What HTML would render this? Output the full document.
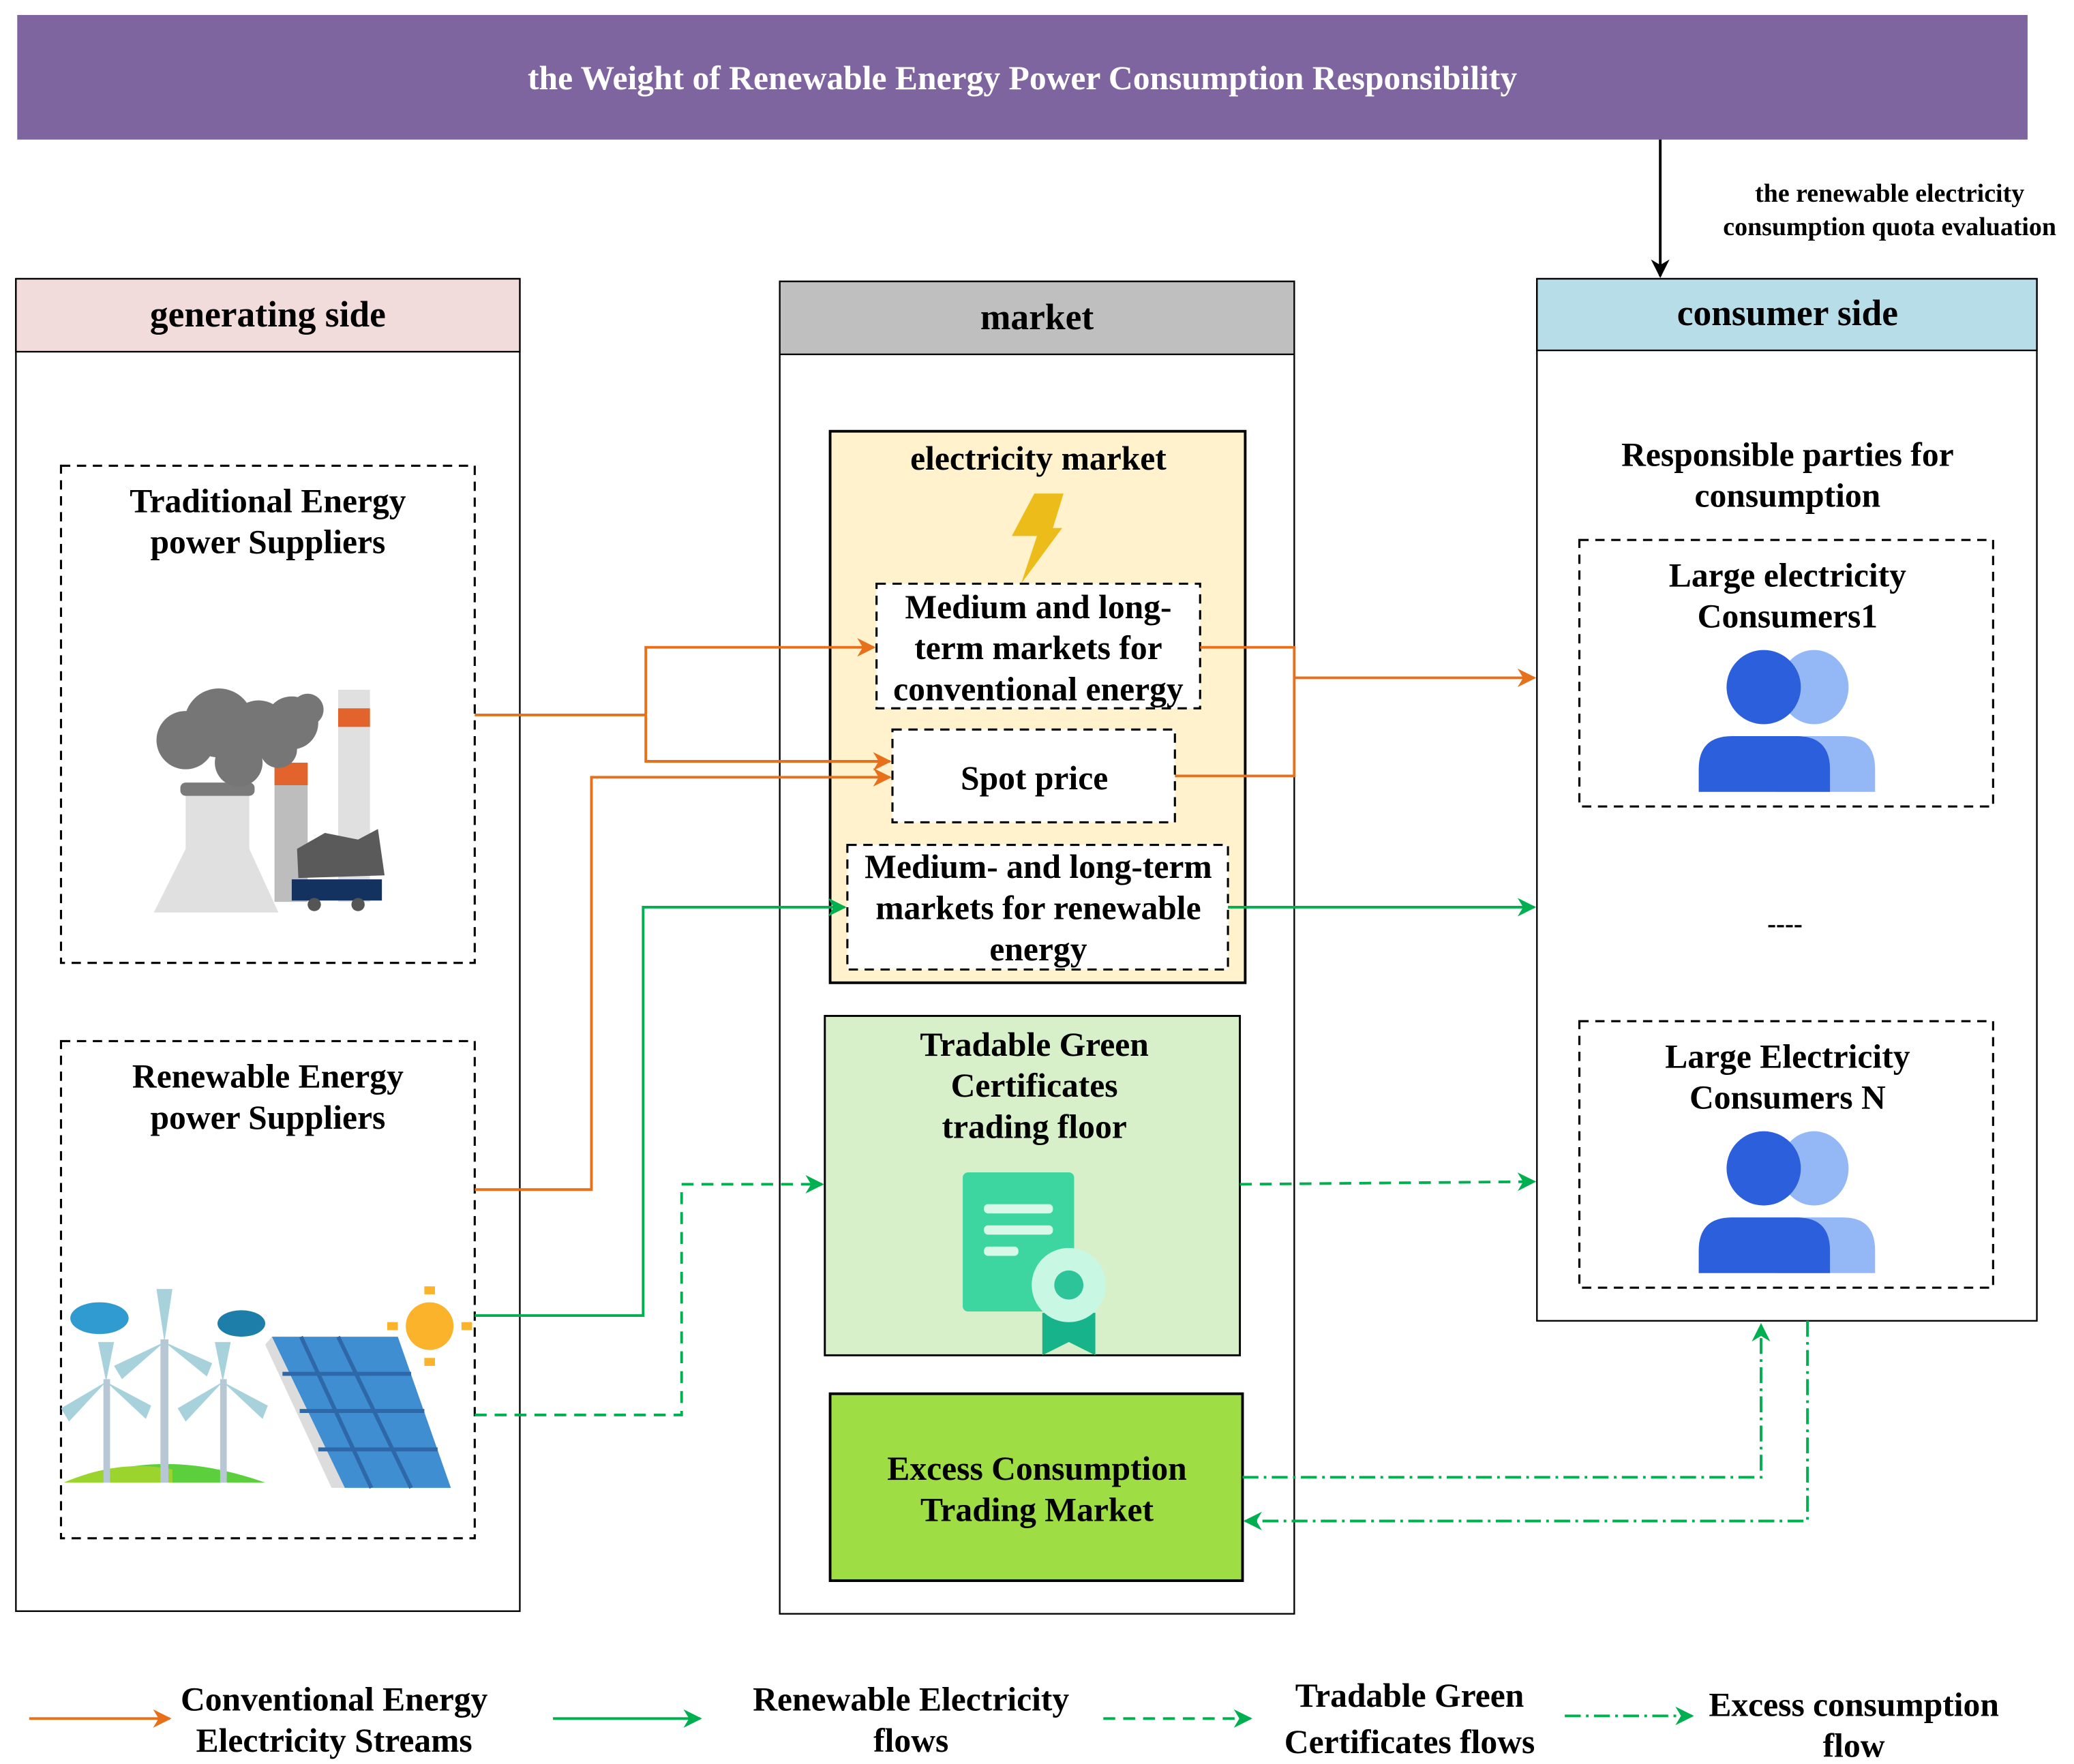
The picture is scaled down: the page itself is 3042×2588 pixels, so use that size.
<!DOCTYPE html>
<html><head><meta charset="utf-8"><style>
html,body{margin:0;padding:0;background:#fff;}
svg{display:block;}
text{font-family:"Liberation Serif",serif;font-weight:bold;}
</style></head><body>
<svg width="3042" height="2588" viewBox="0 0 1564 1330" xmlns="http://www.w3.org/2000/svg">
<defs>
<marker id="ao" viewBox="0 0 10 10" refX="9" refY="5" markerWidth="14" markerHeight="14" orient="auto" markerUnits="userSpaceOnUse"><path d="M0,0 L10,5 L0,10 L3,5 z" fill="#e8701a"/></marker>
<marker id="ag" viewBox="0 0 10 10" refX="9" refY="5" markerWidth="14" markerHeight="14" orient="auto" markerUnits="userSpaceOnUse"><path d="M0,0 L10,5 L0,10 L3,5 z" fill="#00b050"/></marker>
<marker id="ak" viewBox="0 0 10 10" refX="9" refY="5" markerWidth="14" markerHeight="14" orient="auto" markerUnits="userSpaceOnUse"><path d="M0,0 L10,5 L0,10 L3,5 z" fill="#000"/></marker>
</defs>
<style>
.ao{stroke:#e8701a;stroke-width:2;fill:none}
.ag{stroke:#00b050;stroke-width:2;fill:none}
.gd{stroke:#00b050;stroke-width:2;fill:none;stroke-dasharray:9,6}
.gdd{stroke:#00b050;stroke-width:2;fill:none;stroke-dasharray:12,4,2,4}
.db{stroke:#000;stroke-width:1.6;stroke-dasharray:7,5}
.t{font-size:25.5px}
.h{font-size:27.5px}
</style>
<!-- Title -->
<rect x="13" y="11" width="1516" height="94" fill="#7f65a0"/>
<text x="771" y="67" font-size="25.5" fill="#fff" text-anchor="middle">the Weight of Renewable Energy Power Consumption Responsibility</text>
<line x1="1252" y1="105" x2="1252" y2="208" stroke="#000" stroke-width="2" marker-end="url(#ak)"/>
<text x="1425" y="152" font-size="19.5" text-anchor="middle">the renewable electricity</text>
<text x="1425" y="177" font-size="19.5" text-anchor="middle">consumption quota evaluation</text>

<!-- Generating side -->
<rect x="12" y="210" width="380" height="1005" fill="#fff" stroke="#000" stroke-width="1.2"/>
<rect x="12" y="210" width="380" height="55" fill="#f2dcdb" stroke="#000" stroke-width="1.2"/>
<text x="202" y="246" class="h" text-anchor="middle">generating side</text>
<rect x="46" y="351" width="312" height="375" fill="#fff" class="db"/>
<text x="202" y="386" class="t" text-anchor="middle">Traditional Energy</text>
<text x="202" y="417" class="t" text-anchor="middle">power Suppliers</text>
<g>
<rect x="255" y="520" width="24" height="160" fill="#e0e0e0"/>
<rect x="255" y="534" width="24" height="14" fill="#e2642c"/>
<rect x="207" y="575" width="25" height="105" fill="#bdbdbd"/>
<rect x="207" y="575" width="25" height="17" fill="#e2642c"/>
<path d="M140,598 L188,598 L188,640 L210,688 L116,688 L140,640 z" fill="#e0e0e0"/>
<rect x="136" y="590" width="56" height="10" rx="4" fill="#7a7a7a"/>
<g fill="#767676"><circle cx="140" cy="558" r="22"/><circle cx="165" cy="545" r="26"/><circle cx="195" cy="550" r="22"/><circle cx="220" cy="545" r="20"/><circle cx="232" cy="535" r="12"/><circle cx="180" cy="575" r="18"/><circle cx="210" cy="565" r="14"/></g>
<g fill="#5a5a5a"><path d="M224,640 L245,628 L270,633 L285,625 L290,660 L225,662 z"/></g>
<rect x="220" y="663" width="68" height="16" fill="#13325f"/>
<circle cx="237" cy="682" r="5" fill="#555"/><circle cx="270" cy="682" r="5" fill="#555"/>
</g>
<rect x="46" y="785" width="312" height="375" fill="#fff" class="db"/>
<text x="202" y="820" class="t" text-anchor="middle">Renewable Energy</text>
<text x="202" y="851" class="t" text-anchor="middle">power Suppliers</text>
<g>
<path d="M58,1118 Q120,1090 200,1118 z" fill="#5ccf3c"/>
<path d="M48,1118 Q90,1100 130,1108 L130,1118z" fill="#9bd42c"/>
<rect x="121" y="1010" width="6" height="108" fill="#b7c7d4"/>
<rect x="78" y="1040" width="5" height="78" fill="#b7c7d4"/>
<rect x="166" y="1040" width="5" height="78" fill="#b7c7d4"/>
<g fill="#a7d2dc">
<path d="M124,1012 L118,972 L130,972 z"/><path d="M124,1012 L86,1030 L92,1040 z"/><path d="M124,1012 L160,1028 L156,1038 z"/>
<path d="M80,1042 L74,1012 L86,1012 z"/><path d="M80,1042 L46,1062 L52,1072 z"/><path d="M80,1042 L114,1060 L110,1070 z"/>
<path d="M168,1042 L162,1012 L174,1012 z"/><path d="M168,1042 L134,1062 L140,1072 z"/><path d="M168,1042 L202,1060 L198,1070 z"/>
</g>
<ellipse cx="75" cy="994" rx="22" ry="12" fill="#2f9bd0"/>
<ellipse cx="182" cy="998" rx="18" ry="10" fill="#1c7ea9"/>
<path d="M205,1008 L300,1008 L340,1122 L260,1122 z" fill="#3f8ed2"/>
<path d="M205,1008 L260,1122 L250,1122 L200,1014 z" fill="#dcdcdc"/>
<g stroke="#2e68a9" stroke-width="3"><line x1="227" y1="1008" x2="280" y2="1122"/><line x1="255" y1="1008" x2="310" y2="1122"/><line x1="213" y1="1036" x2="310" y2="1036"/><line x1="226" y1="1064" x2="320" y2="1064"/><line x1="240" y1="1093" x2="330" y2="1093"/></g>
<circle cx="324" cy="1000" r="18" fill="#fbb32b"/>
<g fill="#fbb32b"><rect x="320" y="970" width="8" height="6"/><rect x="320" y="1024" width="8" height="6"/><rect x="292" y="997" width="8" height="6"/><rect x="348" y="997" width="8" height="6"/></g>
</g>

<!-- Market -->
<rect x="588" y="212" width="388" height="1005" fill="#fff" stroke="#000" stroke-width="1.2"/>
<rect x="588" y="212" width="388" height="55" fill="#bfbfbf" stroke="#000" stroke-width="1.2"/>
<text x="782" y="248" class="h" text-anchor="middle">market</text>
<rect x="626" y="325" width="313" height="416" fill="#fff2cc" stroke="#000" stroke-width="2"/>
<text x="783" y="354" class="t" text-anchor="middle">electricity market</text>
<path d="M780,372 L802,372 L794,398 L801,398 L770,440 L782,404 L763,404 z" fill="#ecbc1a"/>
<rect x="661" y="440" width="244" height="94" fill="#fff" class="db"/>
<text x="783" y="466" class="t" text-anchor="middle">Medium and long-</text>
<text x="783" y="497" class="t" text-anchor="middle">term markets for</text>
<text x="783" y="528" class="t" text-anchor="middle">conventional energy</text>
<rect x="673" y="550" width="213" height="70" fill="#fff" class="db"/>
<text x="780" y="595" class="t" text-anchor="middle">Spot price</text>
<rect x="639" y="637" width="287" height="94" fill="#fff" class="db"/>
<text x="783" y="662" class="t" text-anchor="middle">Medium- and long-term</text>
<text x="783" y="693" class="t" text-anchor="middle">markets for renewable</text>
<text x="783" y="724" class="t" text-anchor="middle">energy</text>
<rect x="622" y="766" width="313" height="256" fill="#d8f0c9" stroke="#000" stroke-width="1.5"/>
<text x="780" y="796" class="t" text-anchor="middle">Tradable Green</text>
<text x="780" y="827" class="t" text-anchor="middle">Certificates</text>
<text x="780" y="858" class="t" text-anchor="middle">trading floor</text>
<rect x="726" y="884" width="84" height="105" rx="4" fill="#3dd6a0"/>
<rect x="742" y="908" width="52" height="7" rx="3" fill="#d8f8e8"/>
<rect x="742" y="924" width="52" height="7" rx="3" fill="#d8f8e8"/>
<rect x="742" y="940" width="26" height="7" rx="3" fill="#d8f8e8"/>
<path d="M786,990 L786,1022 L806,1012 L826,1022 L826,990 z" fill="#17b38a"/>
<circle cx="806" cy="969" r="28" fill="#c8f7e4"/>
<circle cx="806" cy="969" r="11" fill="#2ec49a"/>
<rect x="626" y="1051" width="311" height="141" fill="#9ede44" stroke="#000" stroke-width="2"/>
<text x="782" y="1116" class="t" text-anchor="middle">Excess Consumption</text>
<text x="782" y="1147" class="t" text-anchor="middle">Trading Market</text>

<!-- Consumer -->
<rect x="1159" y="210" width="377" height="786" fill="#fff" stroke="#000" stroke-width="1.2"/>
<rect x="1159" y="210" width="377" height="54" fill="#b7dde8" stroke="#000" stroke-width="1.2"/>
<text x="1348" y="245" class="h" text-anchor="middle">consumer side</text>
<text x="1348" y="351" class="t" text-anchor="middle">Responsible parties for</text>
<text x="1348" y="382" class="t" text-anchor="middle">consumption</text>
<rect x="1191" y="407" width="312" height="201" fill="#fff" class="db"/>
<text x="1348" y="442" class="t" text-anchor="middle">Large electricity</text>
<text x="1348" y="473" class="t" text-anchor="middle">Consumers1</text>
<g>
<ellipse cx="1368" cy="518" rx="26" ry="28" fill="#94b8f6"/>
<path d="M1340,597 L1340,575 Q1340,555 1365,555 L1390,555 Q1414,555 1414,580 L1414,597 z" fill="#94b8f6"/>
<ellipse cx="1330" cy="518" rx="28" ry="28" fill="#2c5fdb"/>
<path d="M1281,597 L1281,580 Q1281,555 1306,555 L1355,555 Q1380,555 1380,580 L1380,597 z" fill="#2c5fdb"/>
</g>
<text x="1346" y="703" font-size="20" text-anchor="middle">----</text>
<rect x="1191" y="770" width="312" height="201" fill="#fff" class="db"/>
<text x="1348" y="805" class="t" text-anchor="middle">Large Electricity</text>
<text x="1348" y="836" class="t" text-anchor="middle">Consumers N</text>
<g transform="translate(0,363)">
<ellipse cx="1368" cy="518" rx="26" ry="28" fill="#94b8f6"/>
<path d="M1340,597 L1340,575 Q1340,555 1365,555 L1390,555 Q1414,555 1414,580 L1414,597 z" fill="#94b8f6"/>
<ellipse cx="1330" cy="518" rx="28" ry="28" fill="#2c5fdb"/>
<path d="M1281,597 L1281,580 Q1281,555 1306,555 L1355,555 Q1380,555 1380,580 L1380,597 z" fill="#2c5fdb"/>
</g>

<!-- Connectors -->
<polyline class="ao" points="358,539 487,539"/>
<polyline class="ao" points="487,539 487,488 659,488" marker-end="url(#ao)"/>
<polyline class="ao" points="487,539 487,574 671,574" marker-end="url(#ao)"/>
<polyline class="ao" points="358,897 446,897 446,586 671,586" marker-end="url(#ao)"/>
<polyline class="ao" points="905,488 976,488 976,585 886,585"/>
<polyline class="ao" points="976,511 1157,511" marker-end="url(#ao)"/>
<polyline class="ag" points="358,992 485,992 485,684 637,684" marker-end="url(#ag)"/>
<polyline class="ag" points="926,684 1157,684" marker-end="url(#ag)"/>
<polyline class="gd" points="358,1067 514,1067 514,893 620,893" marker-end="url(#ag)"/>
<polyline class="gd" points="935,893 1157,891" marker-end="url(#ag)"/>
<polyline class="gdd" points="937,1114 1328,1114 1328,999" marker-end="url(#ag)"/>
<polyline class="gdd" points="1363,996 1363,1147 939,1147" marker-end="url(#ag)"/>

<!-- Legend -->
<line x1="22" y1="1296" x2="128" y2="1296" class="ao" marker-end="url(#ao)"/>
<text x="252" y="1290" class="t" text-anchor="middle">Conventional Energy</text>
<text x="252" y="1321" class="t" text-anchor="middle">Electricity Streams</text>
<line x1="417" y1="1296" x2="528" y2="1296" class="ag" marker-end="url(#ag)"/>
<text x="687" y="1290" class="t" text-anchor="middle">Renewable Electricity</text>
<text x="687" y="1321" class="t" text-anchor="middle">flows</text>
<line x1="832" y1="1296" x2="943" y2="1296" class="gd" marker-end="url(#ag)"/>
<text x="1063" y="1287" class="t" text-anchor="middle">Tradable Green</text>
<text x="1063" y="1322" class="t" text-anchor="middle">Certificates flows</text>
<line x1="1180" y1="1294" x2="1276" y2="1294" class="gdd" marker-end="url(#ag)"/>
<text x="1398" y="1294" class="t" text-anchor="middle">Excess consumption</text>
<text x="1398" y="1325" class="t" text-anchor="middle">flow</text>
</svg>
</body></html>
